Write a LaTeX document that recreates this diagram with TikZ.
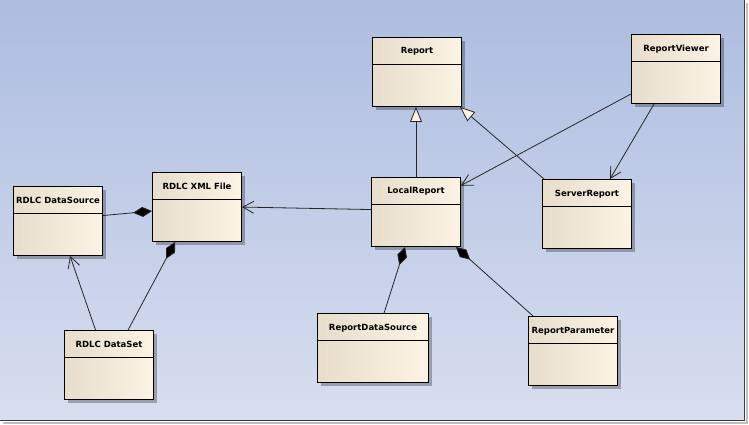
\documentclass[tikz,border=0pt]{standalone}
\usepackage{fontspec}
\setmainfont{DejaVu Sans}
\usetikzlibrary{arrows.meta,shadows,fit}
\definecolor{bgtop}{HTML}{ADBDE0}
\definecolor{bgbot}{HTML}{D8DEEF}
\definecolor{boxL}{HTML}{E8DDCB}
\definecolor{boxR}{HTML}{FCF3E4}
\definecolor{frame}{HTML}{3C3C3C}
\tikzset{
  cls/.style={draw=black, line width=0.9pt, inner sep=0pt, left color=boxL, right color=boxR,
    drop shadow={shadow xshift=3.5pt, shadow yshift=-3.5pt, fill=black, opacity=0.28}},
  ttl/.style={font=\bfseries\fontsize{8.5}{10}\selectfont, inner sep=0pt, text=black},
  conn/.style={line width=0.8pt, draw=black!85},
  dep/.style={conn, -{Straight Barb[length=11pt,width=12pt,line width=0.8pt]}},
  gen/.style={conn, -{Triangle[length=15pt,width=12pt,fill=boxR,line width=0.8pt]}},
  comp/.style={conn, {Diamond[length=19pt,width=10pt,fill=black]}-},
}
\newcommand\umlclass[7]{%
  \node[cls, fit={(#2,#3)(#4,#5)}] (#1) {};
  \draw[line width=0.9pt] (#2,#6) -- (#4,#6);
  \node[ttl] (#1-t) at ({(#2+#4)/2},{(#3+#6)/2+0.8}) {#7};
}
\begin{document}
\begin{tikzpicture}[x=1pt,y=-1pt]
\useasboundingbox (0,0) rectangle (749,425);
\shade[top color=bgtop, bottom color=bgbot] (0,0) rectangle (744,420);
\fill[black!25] (745.5,3) rectangle (748,422.5);
\fill[black!25] (3,421.5) rectangle (748,423.5);
\draw[frame, line width=1.3pt] (744.3,0) -- (744.3,420.3) -- (0,420.3);

\umlclass{report}{372.5}{37.5}{461.5}{106.5}{64}{Report}
\umlclass{local}{371.5}{177.5}{460.5}{246.5}{204}{LocalReport}
\umlclass{server}{542.5}{179.5}{631.5}{248.5}{206.5}{ServerReport}
\umlclass{viewer}{631.5}{34.5}{720.5}{103.5}{61.5}{ReportViewer}
\umlclass{rds}{13.5}{186}{102.5}{255.5}{213.5}{RDLC DataSource}
\umlclass{xml}{152.5}{172.5}{241.5}{241.5}{199.5}{RDLC XML File}
\umlclass{dset}{64.5}{330.5}{153.5}{399.5}{357.5}{RDLC DataSet}
\umlclass{rdsrc}{317.5}{313.5}{428.5}{382.5}{340.5}{ReportDataSource}
\umlclass{param}{528.5}{316.5}{617.5}{385.5}{343.5}{ReportParameter}

\draw[gen] (local.north) -- (local.north |- report.south);
\draw[gen] ([xshift=2pt]server.north west) -- ([xshift=-2pt]report.south east);
\draw[dep] ([yshift=10pt]viewer.south west) -- ([yshift=-8.5pt]local.north east);
\draw[dep] ([xshift=23pt]viewer.south west) -- ([xshift=-22pt]server.north east);
\draw[dep] ([yshift=-32.5pt]local.north west) -- ([yshift=-35pt]xml.north east);
\draw[comp] ([yshift=-39pt]xml.north west) -- ([yshift=-30pt]rds.north east);
\draw[comp] ([xshift=23pt]xml.south west) -- ([xshift=64pt]dset.north west);
\draw[dep] ([xshift=31.5pt]dset.north west) -- ([xshift=57pt]rds.south west);
\draw[comp] ([xshift=34pt]local.south west) -- ([xshift=67pt]rdsrc.north west);
\draw[comp] ([xshift=-5pt]local.south east) -- ([xshift=5pt]param.north west);
\end{tikzpicture}
\end{document}
